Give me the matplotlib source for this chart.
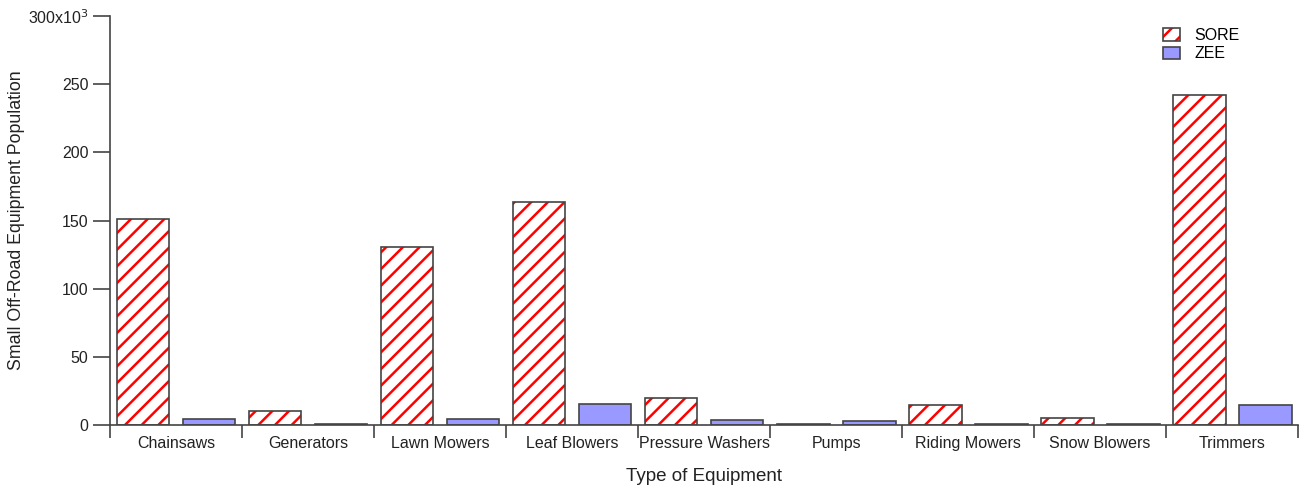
import matplotlib
matplotlib.use("Agg")
import matplotlib.pyplot as plt
import matplotlib.patches as mpatches
import numpy as np

categories = ["Chainsaws", "Generators", "Lawn Mowers", "Leaf Blowers", "Pressure Washers",
              "Pumps", "Riding Mowers", "Snow Blowers", "Trimmers"]
# values in thousands
sore = [151, 10.3, 130.6, 163.8, 19.8, 0.4, 14.8, 5.1, 242.5]
zee = [4.4, 0.4, 4.4, 15.4, 3.8, 3.0, 0.4, 0.4, 14.8]

plt.rcParams['font.family'] = ['Liberation Sans', 'DejaVu Sans']
plt.rcParams['hatch.linewidth'] = 1.8

fig = plt.figure(figsize=(13.04, 4.9), dpi=100)
ax = fig.add_axes([0.0844, 0.1327, 0.9111, 0.8343])

x = np.arange(len(categories))
edge = '#444444'
# hatch takes the edge colour, so draw the red hatch first, then the outline on top
ax.bar(x - 0.25, sore, width=0.4, facecolor='white', edgecolor='#ff0000', linewidth=0,
       hatch='//')
ax.bar(x - 0.25, sore, width=0.4, fill=False, edgecolor=edge, linewidth=1.2)
ax.bar(x + 0.25, zee, width=0.4, facecolor='#9999ff', edgecolor=edge, linewidth=1.2)

# legend handles
sore_handle = mpatches.Patch(facecolor='white', edgecolor='#ff0000', hatch='//', linewidth=0)
outline = mpatches.Patch(fill=False, edgecolor=edge, linewidth=1.2)
zee_handle = mpatches.Patch(facecolor='#9999ff', edgecolor=edge, linewidth=1.2)

ax.set_xlim(-0.5, len(categories) - 0.5)
ax.set_ylim(0, 300)

ax.set_yticks([0, 50, 100, 150, 200, 250, 300])
ax.set_yticklabels(['0', '50', '100', '150', '200', '250', r'300x10$^{3}$'])

# boundary ticks without labels, category labels in between
ax.set_xticks(np.arange(-0.5, len(categories), 1.0))
ax.set_xticklabels([])
ax.set_xticks(x, minor=True)
ax.set_xticklabels(categories, minor=True)
ax.tick_params(axis='x', which='major', direction='out', length=9, width=1.2, color=edge)
ax.tick_params(axis='x', which='minor', length=0, pad=8, labelsize=11.5, labelcolor='#222222')
ax.tick_params(axis='y', direction='out', length=12, width=1.2, color=edge,
               labelsize=11.5, labelcolor='#222222')

for s in ['top', 'right']:
    ax.spines[s].set_visible(False)
for s in ['left', 'bottom']:
    ax.spines[s].set_color(edge)
    ax.spines[s].set_linewidth(1.2)

ax.set_xlabel('Type of Equipment', fontsize=13.5, labelpad=12, color='#222222')
ax.set_ylabel('Small Off-Road Equipment Population', fontsize=12.8, color='#222222')
ax.yaxis.set_label_coords(-0.0716, 0.5)

ax.legend([(sore_handle, outline), zee_handle], ['SORE', 'ZEE'],
          loc='upper right', bbox_to_anchor=(0.963, 1.006), frameon=False, fontsize=11.5,
          handlelength=1.1, handleheight=0.8, handletextpad=0.9, labelspacing=0.2)

fig.savefig('out.png', dpi=100)
